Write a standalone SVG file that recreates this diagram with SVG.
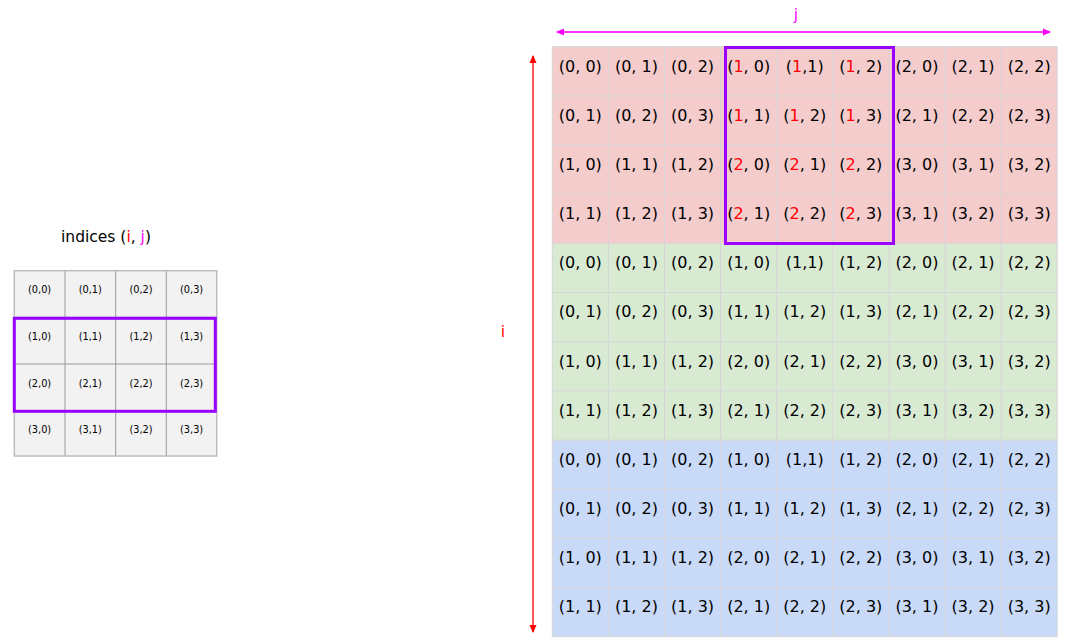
<svg xmlns="http://www.w3.org/2000/svg" width="1066" height="644" viewBox="0 0 1066 644">
<style>
.t{font-family:"DejaVu Sans","Liberation Sans",sans-serif;font-size:16px;fill:#000;text-anchor:middle}
.s{font-family:"DejaVu Sans","Liberation Sans",sans-serif;font-size:9.8px;fill:#000;text-anchor:middle}
.h{font-family:"DejaVu Sans","Liberation Sans",sans-serif;font-size:15.5px;fill:#000}
.r{fill:#ff0000}
.m{fill:#ff00ff}
.grid{stroke:#d6d6d6;stroke-width:1;fill:none}
.lgrid{stroke:#9a9a9a;stroke-width:1;fill:none}
.sel{fill:none;stroke:#9900ff;stroke-width:3}
</style>
<defs>
<marker id="am" viewBox="0 0 8 8" refX="7" refY="4" markerWidth="8" markerHeight="8" markerUnits="userSpaceOnUse" orient="auto-start-reverse"><path d="M0,0.5 L8,4 L0,7.5 Z" fill="#ff00ff"/></marker>
<marker id="ar" viewBox="0 0 8 8" refX="7" refY="4" markerWidth="8" markerHeight="8" markerUnits="userSpaceOnUse" orient="auto-start-reverse"><path d="M0,0.5 L8,4 L0,7.5 Z" fill="#ff0000"/></marker>
</defs>

<g id="left-title"><text class="h" x="61" y="242">indices (<tspan class="r">i</tspan>, <tspan class="m">j</tspan>)</text></g>

<g id="left-grid">
<rect x="14.3" y="270.7" width="202.4" height="185.3" fill="#f2f2f2"/>
<path class="lgrid" d="M65,270.7V456M115.7,270.7V456M166.3,270.7V456M14.3,317.3H216.7M14.3,364H216.7M14.3,410.7H216.7"/>
<rect x="14.3" y="270.7" width="202.4" height="185.3" fill="none" stroke="#bdbdbd" stroke-width="1.5"/>
<g transform="translate(0,293.2)"><text class="s" x="39.6">(0,0)</text><text class="s" x="90.3">(0,1)</text><text class="s" x="141">(0,2)</text><text class="s" x="191.6">(0,3)</text></g>
<g transform="translate(0,339.9)"><text class="s" x="39.6">(1,0)</text><text class="s" x="90.3">(1,1)</text><text class="s" x="141">(1,2)</text><text class="s" x="191.6">(1,3)</text></g>
<g transform="translate(0,386.5)"><text class="s" x="39.6">(2,0)</text><text class="s" x="90.3">(2,1)</text><text class="s" x="141">(2,2)</text><text class="s" x="191.6">(2,3)</text></g>
<g transform="translate(0,433.2)"><text class="s" x="39.6">(3,0)</text><text class="s" x="90.3">(3,1)</text><text class="s" x="141">(3,2)</text><text class="s" x="191.6">(3,3)</text></g>
<rect class="sel" x="14.3" y="318.3" width="201" height="93"/>
</g>

<g id="section-red">
<rect x="552.3" y="46.7" width="504.9" height="196.7" fill="#f4cccc"/>
<g transform="translate(0,71.5)"><text class="t" x="580.35">(0, 0)</text><text class="t" x="636.45">(0, 1)</text><text class="t" x="692.55">(0, 2)</text><text class="t" x="748.65">(<tspan class="r">1</tspan>, 0)</text><text class="t" x="804.75">(<tspan class="r">1</tspan>,1)</text><text class="t" x="860.85">(<tspan class="r">1</tspan>, 2)</text><text class="t" x="916.95">(2, 0)</text><text class="t" x="973.05">(2, 1)</text><text class="t" x="1029.15">(2, 2)</text></g>
<g transform="translate(0,120.7)"><text class="t" x="580.35">(0, 1)</text><text class="t" x="636.45">(0, 2)</text><text class="t" x="692.55">(0, 3)</text><text class="t" x="748.65">(<tspan class="r">1</tspan>, 1)</text><text class="t" x="804.75">(<tspan class="r">1</tspan>, 2)</text><text class="t" x="860.85">(<tspan class="r">1</tspan>, 3)</text><text class="t" x="916.95">(2, 1)</text><text class="t" x="973.05">(2, 2)</text><text class="t" x="1029.15">(2, 3)</text></g>
<g transform="translate(0,169.8)"><text class="t" x="580.35">(1, 0)</text><text class="t" x="636.45">(1, 1)</text><text class="t" x="692.55">(1, 2)</text><text class="t" x="748.65">(<tspan class="r">2</tspan>, 0)</text><text class="t" x="804.75">(<tspan class="r">2</tspan>, 1)</text><text class="t" x="860.85">(<tspan class="r">2</tspan>, 2)</text><text class="t" x="916.95">(3, 0)</text><text class="t" x="973.05">(3, 1)</text><text class="t" x="1029.15">(3, 2)</text></g>
<g transform="translate(0,219)"><text class="t" x="580.35">(1, 1)</text><text class="t" x="636.45">(1, 2)</text><text class="t" x="692.55">(1, 3)</text><text class="t" x="748.65">(<tspan class="r">2</tspan>, 1)</text><text class="t" x="804.75">(<tspan class="r">2</tspan>, 2)</text><text class="t" x="860.85">(<tspan class="r">2</tspan>, 3)</text><text class="t" x="916.95">(3, 1)</text><text class="t" x="973.05">(3, 2)</text><text class="t" x="1029.15">(3, 3)</text></g>
</g>

<g id="section-green">
<rect x="552.3" y="243.4" width="504.9" height="196.7" fill="#d9ead3"/>
<g transform="translate(0,268.2)"><text class="t" x="580.35">(0, 0)</text><text class="t" x="636.45">(0, 1)</text><text class="t" x="692.55">(0, 2)</text><text class="t" x="748.65">(1, 0)</text><text class="t" x="804.75">(1,1)</text><text class="t" x="860.85">(1, 2)</text><text class="t" x="916.95">(2, 0)</text><text class="t" x="973.05">(2, 1)</text><text class="t" x="1029.15">(2, 2)</text></g>
<g transform="translate(0,317.4)"><text class="t" x="580.35">(0, 1)</text><text class="t" x="636.45">(0, 2)</text><text class="t" x="692.55">(0, 3)</text><text class="t" x="748.65">(1, 1)</text><text class="t" x="804.75">(1, 2)</text><text class="t" x="860.85">(1, 3)</text><text class="t" x="916.95">(2, 1)</text><text class="t" x="973.05">(2, 2)</text><text class="t" x="1029.15">(2, 3)</text></g>
<g transform="translate(0,366.5)"><text class="t" x="580.35">(1, 0)</text><text class="t" x="636.45">(1, 1)</text><text class="t" x="692.55">(1, 2)</text><text class="t" x="748.65">(2, 0)</text><text class="t" x="804.75">(2, 1)</text><text class="t" x="860.85">(2, 2)</text><text class="t" x="916.95">(3, 0)</text><text class="t" x="973.05">(3, 1)</text><text class="t" x="1029.15">(3, 2)</text></g>
<g transform="translate(0,415.7)"><text class="t" x="580.35">(1, 1)</text><text class="t" x="636.45">(1, 2)</text><text class="t" x="692.55">(1, 3)</text><text class="t" x="748.65">(2, 1)</text><text class="t" x="804.75">(2, 2)</text><text class="t" x="860.85">(2, 3)</text><text class="t" x="916.95">(3, 1)</text><text class="t" x="973.05">(3, 2)</text><text class="t" x="1029.15">(3, 3)</text></g>
</g>

<g id="section-blue">
<rect x="552.3" y="440.1" width="504.9" height="196.6" fill="#c9daf8"/>
<g transform="translate(0,464.9)"><text class="t" x="580.35">(0, 0)</text><text class="t" x="636.45">(0, 1)</text><text class="t" x="692.55">(0, 2)</text><text class="t" x="748.65">(1, 0)</text><text class="t" x="804.75">(1,1)</text><text class="t" x="860.85">(1, 2)</text><text class="t" x="916.95">(2, 0)</text><text class="t" x="973.05">(2, 1)</text><text class="t" x="1029.15">(2, 2)</text></g>
<g transform="translate(0,514)"><text class="t" x="580.35">(0, 1)</text><text class="t" x="636.45">(0, 2)</text><text class="t" x="692.55">(0, 3)</text><text class="t" x="748.65">(1, 1)</text><text class="t" x="804.75">(1, 2)</text><text class="t" x="860.85">(1, 3)</text><text class="t" x="916.95">(2, 1)</text><text class="t" x="973.05">(2, 2)</text><text class="t" x="1029.15">(2, 3)</text></g>
<g transform="translate(0,563.2)"><text class="t" x="580.35">(1, 0)</text><text class="t" x="636.45">(1, 1)</text><text class="t" x="692.55">(1, 2)</text><text class="t" x="748.65">(2, 0)</text><text class="t" x="804.75">(2, 1)</text><text class="t" x="860.85">(2, 2)</text><text class="t" x="916.95">(3, 0)</text><text class="t" x="973.05">(3, 1)</text><text class="t" x="1029.15">(3, 2)</text></g>
<g transform="translate(0,612.4)"><text class="t" x="580.35">(1, 1)</text><text class="t" x="636.45">(1, 2)</text><text class="t" x="692.55">(1, 3)</text><text class="t" x="748.65">(2, 1)</text><text class="t" x="804.75">(2, 2)</text><text class="t" x="860.85">(2, 3)</text><text class="t" x="916.95">(3, 1)</text><text class="t" x="973.05">(3, 2)</text><text class="t" x="1029.15">(3, 3)</text></g>
</g>

<g id="grid-lines">
<path class="grid" d="M552.3,46.7V636.7M608.4,46.7V636.7M664.5,46.7V636.7M720.6,46.7V636.7M776.7,46.7V636.7M832.8,46.7V636.7M888.9,46.7V636.7M945,46.7V636.7M1001.1,46.7V636.7M1057.2,46.7V636.7M552.3,46.7H1057.2M552.3,95.9H1057.2M552.3,145H1057.2M552.3,194.2H1057.2M552.3,243.4H1057.2M552.3,292.6H1057.2M552.3,341.7H1057.2M552.3,390.9H1057.2M552.3,440.1H1057.2M552.3,489.2H1057.2M552.3,538.4H1057.2M552.3,587.6H1057.2M552.3,636.7H1057.2"/>
</g>

<g id="selection"><rect class="sel" x="725.5" y="47.5" width="168" height="196"/></g>

<g id="connectors">
<line x1="557" y1="32" x2="1050" y2="32" stroke="#ff33ff" stroke-width="2" marker-start="url(#am)" marker-end="url(#am)"/>
<line x1="533" y1="56" x2="533" y2="632" stroke="#ff5a5a" stroke-width="2" marker-start="url(#ar)" marker-end="url(#ar)"/>
</g>

<g id="axis-labels">
<text class="h m" x="796" y="20" text-anchor="middle">j</text>
<text class="h r" x="503" y="337" text-anchor="middle">i</text>
</g>
</svg>
